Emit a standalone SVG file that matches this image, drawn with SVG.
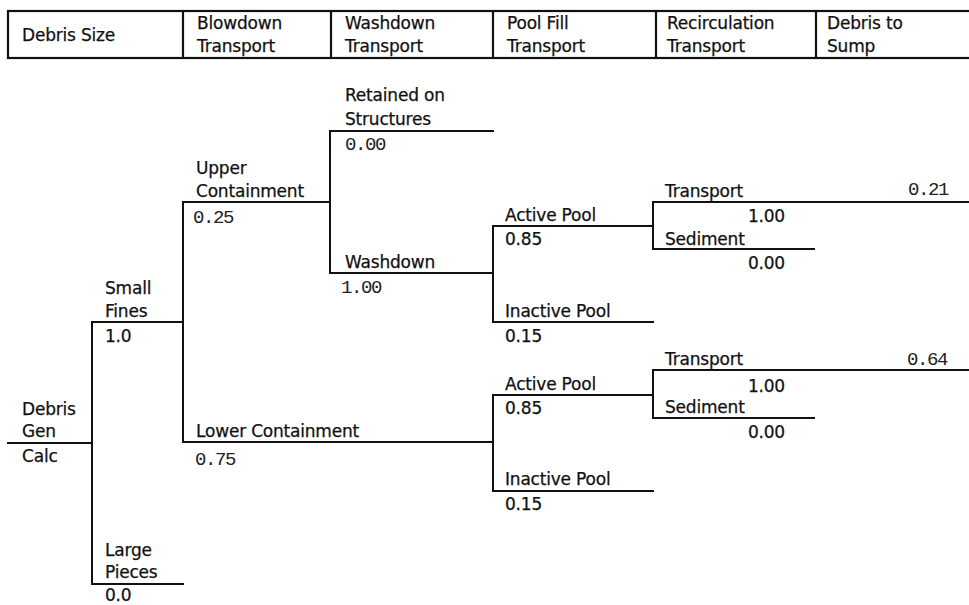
<svg xmlns="http://www.w3.org/2000/svg" width="969" height="605" viewBox="0 0 969 605">
<style>
.ln{stroke:#111;stroke-width:2;fill:none;stroke-linecap:square}
.hd{stroke:#111;stroke-width:2.2;fill:none}
text{font-family:"DejaVu Sans","Liberation Sans",sans-serif;font-size:17px;fill:#111;letter-spacing:-0.2px;stroke:#111;stroke-width:0.25}
text.m{font-family:"Liberation Mono","DejaVu Sans Mono",monospace;font-size:19px;fill:#222;letter-spacing:-1.4px;stroke:none}
text.r{text-anchor:end}
</style>
<rect width="969" height="605" fill="#fff"/>
<g id="header">
<rect class="hd" x="8" y="11" width="975" height="47"/>
<line class="hd" x1="183" y1="11" x2="183" y2="58"/>
<line class="hd" x1="331" y1="11" x2="331" y2="58"/>
<line class="hd" x1="493" y1="11" x2="493" y2="58"/>
<line class="hd" x1="656" y1="11" x2="656" y2="58"/>
<line class="hd" x1="816" y1="11" x2="816" y2="58"/>
<text x="22" y="41">Debris Size</text>
<text x="197" y="29">Blowdown</text><text x="197" y="52">Transport</text>
<text x="345" y="29">Washdown</text><text x="345" y="52">Transport</text>
<text x="507" y="29">Pool Fill</text><text x="507" y="52">Transport</text>
<text x="667" y="29">Recirculation</text><text x="667" y="52">Transport</text>
<text x="827" y="29">Debris to</text><text x="827" y="52">Sump</text>
</g>
<g id="connectors">
<line class="ln" x1="92" y1="322" x2="92" y2="584"/>
<line class="ln" x1="183" y1="202" x2="183" y2="442"/>
<line class="ln" x1="330" y1="131" x2="330" y2="273"/>
<line class="ln" x1="493" y1="226" x2="493" y2="322"/>
<line class="ln" x1="493" y1="395" x2="493" y2="491"/>
<line class="ln" x1="653" y1="202" x2="653" y2="249"/>
<line class="ln" x1="653" y1="370" x2="653" y2="418"/>
</g>
<g id="debris-gen">
<line class="ln" x1="8" y1="443" x2="92" y2="443"/>
<text x="22" y="415">Debris</text><text x="22" y="437">Gen</text><text x="22" y="462">Calc</text>
</g>
<g id="small-fines">
<line class="ln" x1="92" y1="322" x2="183" y2="322"/>
<text x="105" y="294">Small</text><text x="105" y="317">Fines</text><text x="105" y="342">1.0</text>
</g>
<g id="large-pieces">
<line class="ln" x1="92" y1="584" x2="183" y2="584"/>
<text x="105" y="556">Large</text><text x="105" y="578">Pieces</text><text x="105" y="601">0.0</text>
</g>
<g id="upper-containment">
<line class="ln" x1="183" y1="202" x2="330" y2="202"/>
<text x="196" y="174">Upper</text><text x="196" y="197">Containment</text><text class="m" x="193" y="223">0.25</text>
</g>
<g id="lower-containment">
<line class="ln" x1="183" y1="442" x2="493" y2="442"/>
<text x="196" y="437">Lower Containment</text><text class="m" x="195" y="465">0.75</text>
</g>
<g id="retained">
<line class="ln" x1="330" y1="131" x2="493" y2="131"/>
<text x="345" y="101">Retained on</text><text x="345" y="125">Structures</text><text class="m" x="345" y="150">0.00</text>
</g>
<g id="washdown">
<line class="ln" x1="330" y1="273" x2="493" y2="273"/>
<text x="345" y="268">Washdown</text><text class="m" x="341" y="293">1.00</text>
</g>
<g id="active-pool-upper">
<line class="ln" x1="493" y1="226" x2="653" y2="226"/>
<text x="505" y="221">Active Pool</text><text x="505" y="245">0.85</text>
</g>
<g id="inactive-pool-upper">
<line class="ln" x1="493" y1="322" x2="653" y2="322"/>
<text x="505" y="317">Inactive Pool</text><text x="505" y="342">0.15</text>
</g>
<g id="transport-upper">
<line class="ln" x1="653" y1="202" x2="969" y2="202"/>
<text x="665" y="197">Transport</text><text class="r" x="785" y="222">1.00</text><text class="m" x="908" y="195">0.21</text>
</g>
<g id="sediment-upper">
<line class="ln" x1="653" y1="249" x2="814" y2="249"/>
<text x="665" y="245">Sediment</text><text class="r" x="785" y="269">0.00</text>
</g>
<g id="active-pool-lower">
<line class="ln" x1="493" y1="395" x2="653" y2="395"/>
<text x="505" y="390">Active Pool</text><text x="505" y="414">0.85</text>
</g>
<g id="inactive-pool-lower">
<line class="ln" x1="493" y1="491" x2="653" y2="491"/>
<text x="505" y="485">Inactive Pool</text><text x="505" y="510">0.15</text>
</g>
<g id="transport-lower">
<line class="ln" x1="653" y1="370" x2="969" y2="370"/>
<text x="665" y="365">Transport</text><text class="r" x="785" y="392">1.00</text><text class="m" x="907" y="365">0.64</text>
</g>
<g id="sediment-lower">
<line class="ln" x1="653" y1="418" x2="814" y2="418"/>
<text x="665" y="413">Sediment</text><text class="r" x="785" y="438">0.00</text>
</g>
</svg>
